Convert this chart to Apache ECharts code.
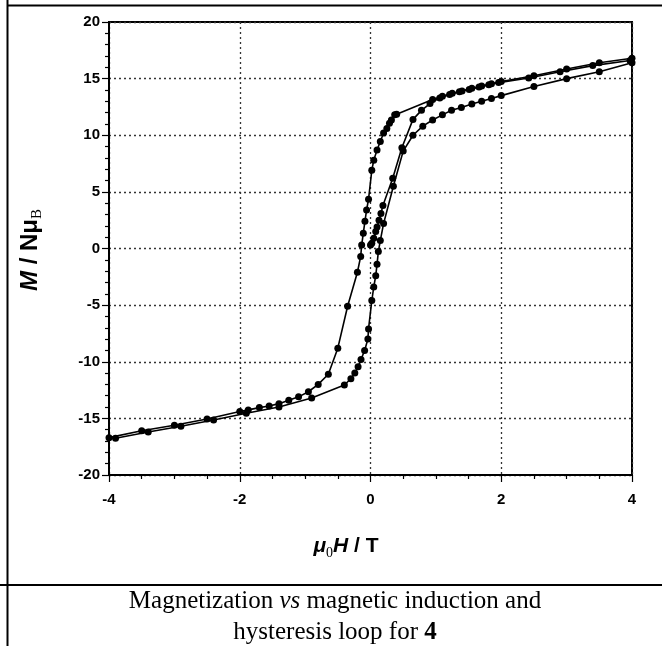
<!DOCTYPE html>
<html><head><meta charset="utf-8">
<script src="https://cdn.jsdelivr.net/npm/echarts@6/dist/echarts.min.js"></script>
<style>html,body{margin:0;padding:0;background:#fff;}#c{width:662px;height:646px;}</style>
</head><body><div id="c"></div>
<script>
// Virgin magnetization curve (H in T, M in N muB)
const virginH = [0.0, 0.02, 0.05, 0.08, 0.10, 0.13, 0.16, 0.19, 0.34, 0.48, 0.65, 0.78, 0.91, 1.06, 1.21, 1.36, 1.51, 1.66, 1.81, 1.96, 2.42, 2.90, 3.40, 3.97];
const virginM = [0.3, 0.47, 0.9, 1.5, 1.9, 2.5, 3.1, 3.8, 6.2, 8.9, 11.4, 12.2, 12.8, 13.3, 13.6, 13.85, 14.05, 14.25, 14.45, 14.65, 15.05, 15.6, 16.15, 16.6];
// Descending branch (+4 T -> -4 T)
const descH = [4.0, 3.5, 3.0, 2.5, 2.0, 1.85, 1.7, 1.55, 1.4, 1.25, 1.1, 0.95, 0.40, 0.37, 0.32, 0.29, 0.25, 0.20, 0.15, 0.10, 0.05, 0.02, -0.03, -0.06, -0.085, -0.11, -0.135, -0.15, -0.20, -0.35, -0.50, -0.645, -0.80, -0.95, -1.10, -1.25, -1.40, -1.55, -1.70, -1.87, -2.0, -2.5, -3.0, -3.5, -4.0];
const descM = [16.8, 16.4, 15.85, 15.25, 14.75, 14.55, 14.35, 14.15, 13.9, 13.7, 13.45, 13.15, 11.85, 11.8, 11.35, 11.05, 10.6, 10.2, 9.45, 8.7, 7.8, 6.9, 4.35, 3.4, 2.4, 1.35, 0.3, -0.7, -2.1, -5.1, -8.8, -11.1, -12.0, -12.65, -13.1, -13.4, -13.7, -13.9, -14.05, -14.25, -14.4, -15.05, -15.6, -16.1, -16.7];
// Ascending branch (-4 T -> +4 T)
const ascH = [-3.9, -3.4, -2.9, -2.4, -1.9, -1.4, -0.9, -0.40, -0.30, -0.24, -0.19, -0.145, -0.09, -0.04, -0.03, 0.02, 0.05, 0.08, 0.10, 0.12, 0.15, 0.20, 0.35, 0.50, 0.65, 0.80, 0.95, 1.10, 1.24, 1.39, 1.55, 1.70, 1.85, 2.0, 2.5, 3.0, 3.5, 4.0];
const ascM = [-16.75, -16.2, -15.7, -15.15, -14.55, -14.0, -13.2, -12.05, -11.5, -11.0, -10.45, -9.8, -9.0, -8.0, -7.1, -4.6, -3.4, -2.4, -1.4, -0.27, 0.7, 2.2, 5.5, 8.6, 10.0, 10.8, 11.35, 11.8, 12.2, 12.45, 12.75, 13.0, 13.25, 13.5, 14.3, 15.0, 15.6, 16.4];
const xTicks = [-4, -2, 0, 2, 4];
const yTicks = [-20, -15, -10, -5, 0, 5, 10, 15, 20];

const zip = (a, b) => a.map((v, i) => [v, b[i]]);
const mk = (name, h, m) => ({
  name, type: 'line', data: zip(h, m), symbol: 'circle', symbolSize: 7,
  itemStyle: {color: '#000'}, lineStyle: {color: '#000', width: 1.6},
  animation: false, clip: false
});
const chart = echarts.init(document.getElementById('c'), null, {renderer: 'canvas'});
const lab = {color: '#000', fontFamily: 'Liberation Sans, Arial', fontWeight: 'bold', fontSize: 15};
chart.setOption({
  animation: false,
  backgroundColor: '#fff',
  grid: {left: 109, right: 30, top: 22, bottom: 171, show: true, borderColor: '#000', borderWidth: 2, backgroundColor: 'transparent'},
  xAxis: {
    type: 'value', min: xTicks[0], max: xTicks[xTicks.length - 1], interval: 2,
    axisLine: {show: true, onZero: false, lineStyle: {color: '#000', width: 2}},
    axisTick: {show: true, length: 7, lineStyle: {color: '#000', width: 1.2}},
    minorTick: {show: true, splitNumber: 4, length: 4, lineStyle: {color: '#000', width: 1.2}},
    splitLine: {show: true, lineStyle: {color: '#333', type: [2, 3], width: 1.3}},
    axisLabel: Object.assign({margin: 17}, lab)
  },
  yAxis: {
    type: 'value', min: yTicks[0], max: yTicks[yTicks.length - 1], interval: 5,
    axisLine: {show: true, onZero: false, lineStyle: {color: '#000', width: 2}},
    axisTick: {show: true, length: 7, lineStyle: {color: '#000', width: 1.2}},
    minorTick: {show: true, splitNumber: 5, length: 4, lineStyle: {color: '#000', width: 1.2}},
    splitLine: {show: true, lineStyle: {color: '#333', type: [2, 3], width: 1.3}},
    axisLabel: Object.assign({margin: 9}, lab)
  },
  series: [mk('virgin', virginH, virginM), mk('descending', descH, descM), mk('ascending', ascH, ascM)],
  graphic: [
    {type: 'line', shape: {x1: 7.5, y1: 0, x2: 7.5, y2: 646}, style: {stroke: '#000', lineWidth: 2}},
    {type: 'line', shape: {x1: 7, y1: 5.5, x2: 662, y2: 5.5}, style: {stroke: '#000', lineWidth: 2}},
    {type: 'line', shape: {x1: 0, y1: 585, x2: 662, y2: 585}, style: {stroke: '#000', lineWidth: 2}},
    {type: 'text', x: 346, y: 546, style: {
      text: '{mu|μ}{sub|0}{h|H}{t| / T}', align: 'center', verticalAlign: 'middle',
      rich: {
        mu: {fontFamily: 'Liberation Sans, Arial', fontStyle: 'italic', fontWeight: 'bold', fontSize: 21, fill: '#000'},
        sub: {fontFamily: 'Liberation Serif, Times New Roman', fontSize: 14, fill: '#000', padding: [14, 0, 0, 0]},
        h: {fontFamily: 'Liberation Sans, Arial', fontStyle: 'italic', fontWeight: 'bold', fontSize: 21, fill: '#000'},
        t: {fontFamily: 'Liberation Sans, Arial', fontWeight: 'bold', fontSize: 21, fill: '#000'}
      }
    }},
    {type: 'text', x: 30, y: 250, rotation: Math.PI / 2, style: {
      text: '{m|M}{t| / Nμ}{sub|B}', align: 'center', verticalAlign: 'middle',
      rich: {
        m: {fontFamily: 'Liberation Sans, Arial', fontStyle: 'italic', fontWeight: 'bold', fontSize: 24, fill: '#000'},
        t: {fontFamily: 'Liberation Sans, Arial', fontWeight: 'bold', fontSize: 24, fill: '#000'},
        sub: {fontFamily: 'Liberation Serif, Times New Roman', fontSize: 15, fill: '#000', padding: [15, 0, 0, 0]}
      }
    }},
    {type: 'text', x: 335, y: 617, style: {
      text: '{n|Magnetization }{i|vs}{n| magnetic induction and}\n{n|hysteresis loop for }{b|4}', align: 'center', verticalAlign: 'middle',
      rich: {
        n: {fontFamily: 'Liberation Serif, Times New Roman', fontSize: 25, fill: '#000', lineHeight: 31},
        i: {fontFamily: 'Liberation Serif, Times New Roman', fontStyle: 'italic', fontSize: 25, fill: '#000', lineHeight: 31},
        b: {fontFamily: 'Liberation Serif, Times New Roman', fontWeight: 'bold', fontSize: 25, fill: '#000', lineHeight: 31}
      }
    }}
  ]
});
</script></body></html>
